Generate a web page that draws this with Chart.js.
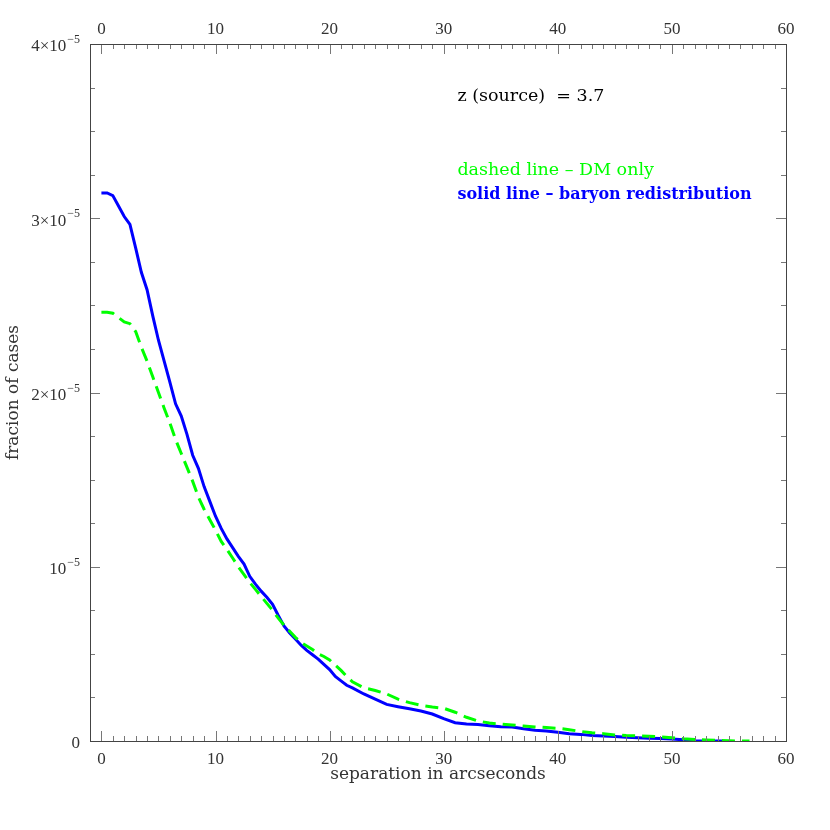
<!DOCTYPE html>
<html>
<head>
<meta charset="utf-8">
<script src="https://cdn.jsdelivr.net/npm/chart.js@4.4.0/dist/chart.umd.min.js"></script>
<style>
  body { margin: 0; background: #fff; }
  canvas { display: block; }
</style>
</head>
<body>
<canvas id="lensChart" width="830" height="830"></canvas>
<script>
// separation in arcseconds, fraction of cases in units of 1e-5
const baryonSep = [0, 0.5, 1, 1.5, 2, 2.5, 3, 3.5, 4, 4.5, 5, 5.5, 6, 6.5, 7, 7.5, 8, 8.5, 9, 9.5,
  10, 10.5, 11, 11.5, 12, 12.5, 13, 13.5, 14, 14.5, 15, 15.5, 16, 16.5, 17, 17.5, 18, 18.5, 19, 19.5,
  20, 20.5, 21, 21.5, 22, 23, 24, 25, 26, 27, 28, 29, 30, 31, 32, 33, 34, 35, 36, 37, 38, 39,
  40, 41, 42, 43, 44, 45, 46, 47, 48, 49, 50, 51, 52, 53, 54.5];
const baryonFrac = [3.145, 3.145, 3.13, 3.07, 3.01, 2.965, 2.83, 2.69, 2.59, 2.44, 2.30, 2.18, 2.06, 1.935, 1.865, 1.76, 1.64, 1.565, 1.46, 1.375,
  1.29, 1.22, 1.16, 1.11, 1.06, 1.015, 0.945, 0.90, 0.86, 0.825, 0.785, 0.72, 0.66, 0.62, 0.585, 0.55, 0.52, 0.495, 0.47, 0.44,
  0.41, 0.37, 0.345, 0.32, 0.305, 0.27, 0.24, 0.21, 0.197, 0.185, 0.172, 0.155, 0.128, 0.105, 0.098, 0.095, 0.088, 0.082, 0.08, 0.07, 0.062, 0.058,
  0.05, 0.041, 0.038, 0.031, 0.029, 0.026, 0.022, 0.019, 0.016, 0.014, 0.011, 0.007, 0.002, 0, 0];

const dmSep = [0, 0.5, 1, 1.5, 2, 2.5, 3, 3.5, 4, 4.5, 5, 5.5, 6, 6.5, 7, 7.5, 8, 8.5, 9, 9.5,
  10, 10.5, 11, 11.5, 12, 12.5, 13, 13.5, 14, 14.5, 15, 15.5, 16, 16.5, 17, 17.5, 18, 18.5, 19, 19.5,
  20, 20.5, 21, 21.5, 22, 23, 24, 25, 26, 27, 28, 29, 30, 31, 32, 33, 34, 35, 36, 37, 38, 39,
  40, 41, 42, 43, 44, 45, 46, 47, 48, 49, 50, 51, 52, 53, 54, 55, 56.8];
const dmFrac = [2.46, 2.46, 2.455, 2.43, 2.405, 2.395, 2.35, 2.26, 2.18, 2.09, 2.00, 1.91, 1.825, 1.73, 1.65, 1.57, 1.49, 1.40, 1.33, 1.27,
  1.21, 1.145, 1.10, 1.05, 1.00, 0.955, 0.91, 0.87, 0.83, 0.79, 0.75, 0.705, 0.665, 0.63, 0.595, 0.565, 0.545, 0.525, 0.50, 0.485,
  0.465, 0.435, 0.405, 0.37, 0.34, 0.305, 0.29, 0.27, 0.24, 0.22, 0.205, 0.195, 0.188, 0.165, 0.136, 0.115, 0.103, 0.097, 0.092, 0.086, 0.081, 0.077,
  0.073, 0.065, 0.055, 0.047, 0.042, 0.035, 0.031, 0.029, 0.027, 0.024, 0.019, 0.013, 0.009, 0.006, 0.003, 0.001, 0];

const xTicks = [0, 10, 20, 30, 40, 50, 60];
const yTicks = [0, 1, 2, 3, 4];
// mantissa part and exponent part of each y tick label
const yTickBase = ['0', '10', '2×10', '3×10', '4×10'];
const yTickExp = ['', '−5', '−5', '−5', '−5'];

const sourceLabel = 'z (source)  = 3.7';
const dmLabel = 'dashed line \u2013 DM only';
const baryonLabel = 'solid line \u2013 baryon redistribution';

function toPoints(xs, ys) {
  return xs.map((x, i) => ({x: x, y: ys[i]}));
}

const tickFont = {family: '"Liberation Serif", serif', size: 17};
const titleFont = {family: '"DejaVu Serif", serif', size: 17};

// inward ticks on all four sides, the frame, y labels with raised exponent, and the notes
const framePlugin = {
  id: 'frame',
  afterDraw(chart) {
    const {ctx, chartArea: a} = chart;
    const xs = chart.scales.x;
    const ys = chart.scales.y;
    ctx.save();
    ctx.strokeStyle = '#777';
    ctx.lineWidth = 1;
    ctx.beginPath();
    for (let v = 0; v <= 60; v += 1) {
      const px = Math.round(xs.getPixelForValue(v)) + 0.5;
      const len = v % 10 === 0 ? 10 : 5;
      ctx.moveTo(px, a.bottom); ctx.lineTo(px, a.bottom - len);
      ctx.moveTo(px, a.top); ctx.lineTo(px, a.top + len);
    }
    for (let v = 0; v <= 4; v += 0.25) {
      const py = Math.round(ys.getPixelForValue(v)) + 0.5;
      const len = v % 1 === 0 ? 10 : 5;
      ctx.moveTo(a.left, py); ctx.lineTo(a.left + len, py);
      ctx.moveTo(a.right, py); ctx.lineTo(a.right - len, py);
    }
    ctx.stroke();
    ctx.strokeStyle = '#444';
    ctx.strokeRect(Math.round(a.left) + 0.5, Math.round(a.top) + 0.5,
      Math.round(a.right - a.left), Math.round(a.bottom - a.top));

    // y tick labels
    ctx.fillStyle = '#333';
    ctx.textBaseline = 'middle';
    ctx.textAlign = 'right';
    const labelRight = a.left - 10;
    yTicks.forEach((v, i) => {
      const py = ys.getPixelForValue(v);
      let right = labelRight;
      if (yTickExp[i]) {
        ctx.font = '12px "Liberation Serif", serif';
        ctx.fillText(yTickExp[i], right, py - 4);
        right -= ctx.measureText(yTickExp[i]).width + 1;
      }
      ctx.font = '17px "Liberation Serif", serif';
      ctx.fillText(yTickBase[i], right, py + 3);
    });

    ctx.textAlign = 'left';
    const tx = xs.getPixelForValue(31.2);
    ctx.font = '17.5px "DejaVu Serif", serif';
    ctx.fillStyle = '#000';
    ctx.fillText(sourceLabel, tx, ys.getPixelForValue(3.70));
    ctx.fillStyle = '#00ff00';
    ctx.fillText(dmLabel, tx, ys.getPixelForValue(3.277));
    ctx.font = 'bold 16px "DejaVu Serif", serif';
    ctx.fillStyle = '#0000ff';
    ctx.fillText(baryonLabel, tx, ys.getPixelForValue(3.133));
    ctx.restore();
  }
};

new Chart(document.getElementById('lensChart'), {
  type: 'line',
  data: {
    datasets: [
      {
        label: 'DM only',
        data: toPoints(dmSep, dmFrac),
        borderColor: '#00ff00',
        borderWidth: 3,
        borderDash: [13, 7],
        pointRadius: 0,
        tension: 0
      },
      {
        label: 'baryon redistribution',
        data: toPoints(baryonSep, baryonFrac),
        borderColor: '#0000ff',
        borderWidth: 3,
        pointRadius: 0,
        tension: 0
      }
    ]
  },
  options: {
    responsive: false,
    animation: false,
    layout: {padding: 0},
    plugins: {legend: {display: false}, tooltip: {enabled: false}},
    scales: {
      x: {
        type: 'linear', position: 'bottom', min: -1, max: 60,
        afterBuildTicks: s => { s.ticks = xTicks.map(v => ({value: v})); },
        afterFit: s => { s.height = 89; },
        grid: {display: false, drawTicks: false}, border: {display: false},
        ticks: {font: tickFont, color: '#333', padding: 8, maxRotation: 0},
        title: {display: true, text: 'separation in arcseconds', font: titleFont, color: '#333', padding: {top: 0, bottom: 45}}
      },
      x2: {
        type: 'linear', position: 'top', min: -1, max: 60,
        afterBuildTicks: s => { s.ticks = xTicks.map(v => ({value: v})); },
        afterFit: s => { s.height = 44; },
        grid: {display: false, drawTicks: false}, border: {display: false},
        ticks: {font: tickFont, color: '#333', padding: 4, maxRotation: 0}
      },
      y: {
        type: 'linear', position: 'left', min: 0, max: 4,
        afterBuildTicks: s => { s.ticks = yTicks.map(v => ({value: v})); },
        afterFit: s => { s.width = 90; },
        grid: {display: false, drawTicks: false}, border: {display: false},
        ticks: {display: false},
        title: {display: true, text: 'fracion of cases', font: titleFont, color: '#333', padding: {top: 3, bottom: 0}}
      },
      y2: {
        type: 'linear', position: 'right', min: 0, max: 4,
        afterFit: s => { s.width = 44; },
        grid: {display: false}, border: {display: false},
        ticks: {display: false}
      }
    }
  },
  plugins: [framePlugin]
});
</script>
</body>
</html>
